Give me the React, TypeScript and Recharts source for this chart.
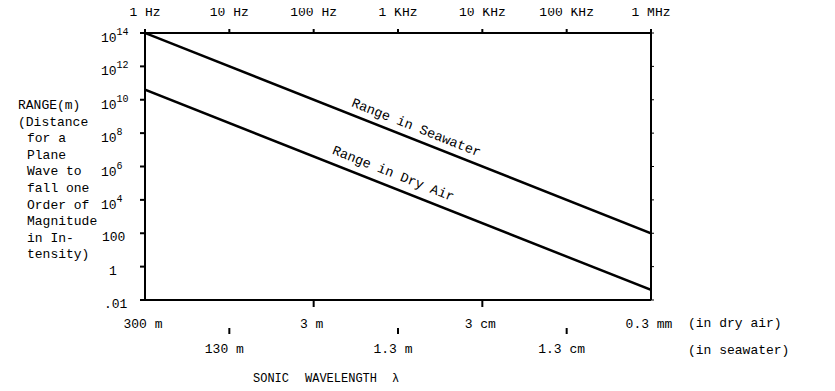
import React from "react";
import { LineChart, Line, XAxis, YAxis } from "recharts";

// frequency (Hz) at the two ends of the plotted range
const frequencies = [1, 1e6];
// range (m) for a plane wave to fall one order of magnitude in intensity
const seawaterRange = [1e14, 100];
const dryAirRange = [4e10, 0.04];

const freqTicks = [1, 10, 100, 1e3, 1e4, 1e5, 1e6];
const freqLabels = ["1 Hz", "10 Hz", "100 Hz", "1 KHz", "10 KHz", "100 KHz", "1 MHz"];

const rangeTicks = [0.01, 1, 100, 1e4, 1e6, 1e8, 1e10, 1e12, 1e14];

const dryAirTickFreqs = [1, 100, 1e4, 1e6];
const dryAirWavelengths = ["300 m", "3 m", "3 cm", "0.3 mm"];
const seawaterTickFreqs = [10, 1e3, 1e5];
const seawaterWavelengths = ["130 m", "1.3 m", "1.3 cm"];

const yTitle = [
  "RANGE(m)",
  "(Distance",
  "for a",
  "Plane",
  "Wave to",
  "fall one",
  "Order of",
  "Magnitude",
  "in In-",
  "tensity)",
];

const FONT = "'Liberation Mono', 'DejaVu Sans Mono', monospace";

const data = frequencies.map((f, i) => ({
  f,
  sea: seawaterRange[i],
  air: dryAirRange[i],
}));

function TopTick({ x, y, payload }: any) {
  const i = freqTicks.indexOf(payload.value);
  return (
    <text x={x} y={y - 13} textAnchor="middle" fontFamily={FONT} fontSize={13} fill="#000">
      {freqLabels[i]}
    </text>
  );
}

function BottomTick({ x, y, payload }: any) {
  const v = payload.value;
  const d = dryAirTickFreqs.indexOf(v);
  if (d >= 0) {
    return (
      <g>
        {d > 0 && d < dryAirTickFreqs.length - 1 && (
          <line x1={x} x2={x} y1={y} y2={y + 7} stroke="#000" strokeWidth={2} />
        )}
        <text x={x - 2} y={y + 28} textAnchor="middle" fontFamily={FONT} fontSize={13} fill="#000">
          {dryAirWavelengths[d]}
        </text>
      </g>
    );
  }
  const s = seawaterTickFreqs.indexOf(v);
  return (
    <g>
      <line x1={x} x2={x} y1={y + 28} y2={y + 34} stroke="#000" strokeWidth={2} />
      <text x={x - 5} y={y + 53} textAnchor="middle" fontFamily={FONT} fontSize={13} fill="#000">
        {seawaterWavelengths[s]}
      </text>
    </g>
  );
}

function LeftTick({ x, y, payload }: any) {
  const v = payload.value;
  const exp = Math.round(Math.log10(v));
  if (exp >= 4) {
    return (
      <text x={x - 39} y={y + 9} fontFamily={FONT} fontSize={13} fill="#000">
        10
        <tspan fontSize={10} dy={-7}>
          {exp}
        </tspan>
      </text>
    );
  }
  const label = exp === 2 ? "100" : exp === 0 ? "1" : ".01";
  const shift = exp === 2 ? -38 : exp === 0 ? -31 : -36;
  return (
    <text x={x + shift} y={y + 8} fontFamily={FONT} fontSize={13} fill="#000">
      {label}
    </text>
  );
}

const EmptyTick = () => <g />;

export default function App() {
  return (
    <div style={{ position: "relative", width: 835, height: 391, margin: -8, background: "#fff" }}>
      <LineChart
        width={835}
        height={391}
        data={data}
        margin={{ top: 8, right: 124, left: 85, bottom: 31 }}
      >
        <XAxis
          xAxisId="top"
          orientation="top"
          dataKey="f"
          type="number"
          scale="log"
          domain={[1, 1e6]}
          ticks={freqTicks}
          height={25}
          tickSize={4}
          tickMargin={0}
          tick={<TopTick />}
          axisLine={{ stroke: "#000", strokeWidth: 2 }}
          tickLine={{ stroke: "#000", strokeWidth: 2 }}
          allowDataOverflow
        />
        <XAxis
          xAxisId="bottom"
          orientation="bottom"
          dataKey="f"
          type="number"
          scale="log"
          domain={[1, 1e6]}
          ticks={freqTicks}
          height={60}
          tickSize={0}
          tickMargin={0}
          tick={<BottomTick />}
          tickLine={false}
          axisLine={{ stroke: "#000", strokeWidth: 2 }}
          allowDataOverflow
        />
        <YAxis
          yAxisId="left"
          type="number"
          scale="log"
          domain={[0.01, 1e14]}
          ticks={rangeTicks}
          width={60}
          tickSize={5}
          tickMargin={0}
          tick={<LeftTick />}
          axisLine={{ stroke: "#000", strokeWidth: 2 }}
          tickLine={{ stroke: "#000", strokeWidth: 2 }}
          allowDataOverflow
        />
        <YAxis
          yAxisId="right"
          orientation="right"
          type="number"
          scale="log"
          domain={[0.01, 1e14]}
          ticks={rangeTicks}
          width={60}
          tickSize={3}
          tick={<EmptyTick />}
          axisLine={{ stroke: "#000", strokeWidth: 2 }}
          tickLine={{ stroke: "#000", strokeWidth: 1 }}
          allowDataOverflow
        />
        <Line
          xAxisId="top"
          yAxisId="left"
          dataKey="sea"
          stroke="#000"
          strokeWidth={2.5}
          dot={false}
          isAnimationActive={false}
        />
        <Line
          xAxisId="top"
          yAxisId="left"
          dataKey="air"
          stroke="#000"
          strokeWidth={2.5}
          dot={false}
          isAnimationActive={false}
        />
      </LineChart>
      <svg
        width={835}
        height={391}
        style={{ position: "absolute", left: 0, top: 0, pointerEvents: "none" }}
      >
        <g fontFamily={FONT} fontSize={13} fill="#000">
          {yTitle.map((t, i) => (
            <text key={i} x={i < 2 ? 18 : 27} y={109 + i * 16.6}>
              {t}
            </text>
          ))}
          <text x={688} y={327}>(in dry air)</text>
          <text x={688} y={354}>(in seawater)</text>
          <text x={253} y={382} fontSize={12}>SONIC</text>
          <text x={305} y={382} fontSize={12}>WAVELENGTH</text>
          <text x={392} y={382} fontSize={12}>λ</text>
          <text
            x={416}
            y={128}
            textAnchor="middle"
            dominantBaseline="middle"
            fontSize={13.5}
            transform="rotate(21.6 416 128)"
          >
            Range in Seawater
          </text>
          <text
            x={393}
            y={174}
            textAnchor="middle"
            dominantBaseline="middle"
            fontSize={13.5}
            transform="rotate(21.6 393 174)"
          >
            Range in Dry Air
          </text>
        </g>
      </svg>
    </div>
  );
}
